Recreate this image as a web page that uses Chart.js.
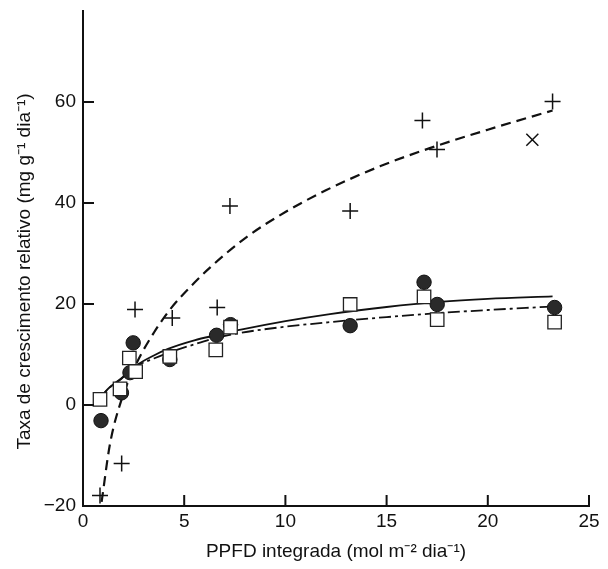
<!DOCTYPE html>
<html>
<head>
<meta charset="utf-8">
<script src="https://cdn.jsdelivr.net/npm/chart.js@4"></script>
<style>
  html, body { margin: 0; padding: 0; background: #fff; }
  #wrap { width: 608px; height: 569px; }
</style>
</head>
<body>
<div id="wrap"><canvas id="growthChart" width="608" height="569"></canvas></div>
<script>
// values
const plusX = [0.84, 1.91, 2.57, 4.41, 6.63, 7.26, 13.2, 16.77, 17.49, 23.2];
const plusY = [-17.9, -11.6, 18.9, 17.2, 19.3, 39.4, 38.4, 56.3, 50.6, 60.1];
const timesX = [22.2];
const timesY = [52.5];
const circleX = [0.89, 1.9, 2.32, 2.48, 4.29, 6.6, 7.29, 13.2, 16.85, 17.5, 23.3];
const circleY = [-3.1, 2.4, 6.4, 12.3, 9.0, 13.8, 15.9, 15.7, 24.3, 19.9, 19.3];
const squareX = [0.84, 1.83, 2.29, 2.6, 4.29, 6.56, 7.29, 13.2, 16.85, 17.5, 23.3];
const squareY = [1.1, 3.2, 9.3, 6.6, 9.6, 10.9, 15.4, 19.9, 21.4, 16.9, 16.4];

// fitted curves
const dashFitX = [0.92, 1.33, 1.9, 2.65, 3.5, 4.3, 5.5, 6.3, 8.1, 10, 12, 14.7, 17.1, 20, 23.2];
const dashFitY = [-19.2, -7.8, 1.0, 8.3, 14.3, 18.9, 24.2, 27.3, 33.3, 38.2, 42.5, 47.3, 50.8, 54.5, 58.3];
const solidFitX = [0.84, 1.1, 1.9, 2.7, 3.5, 4.2, 5.5, 6.7, 7.8, 10, 12.2, 15, 17.6, 20, 23.2];
const solidFitY = [1, 2.6, 5.3, 8, 9.8, 11.1, 12.8, 13.9, 14.9, 16.6, 18.0, 19.4, 20.4, 21.0, 21.5];
const dotFitX = [0.84, 1.1, 1.9, 2.7, 3.5, 4.2, 5.5, 6.7, 7.8, 10, 12.2, 15, 17.6, 20, 23.2];
const dotFitY = [1, 2.6, 5.2, 7.8, 9.2, 10.3, 12, 13.4, 14.3, 15.5, 16.4, 17.4, 18.2, 18.8, 19.5];

const xTicks = [0, 5, 10, 15, 20, 25];
const yTicks = [-20, 0, 20, 40, 60];

const FONT = '"Liberation Sans", Arial, Helvetica, sans-serif';
const yTitle = 'Taxa de crescimento relativo (mg g⁻¹ dia⁻¹)';

function pts(xs, ys) {
    return xs.map((x, i) => ({ x, y: ys[i] }));
}

// ticks in the figure point into the plot, so draw them from the scales
const inwardTicks = {
    id: 'inwardTicks',
    afterDraw(chart) {
        const { ctx, chartArea, scales } = chart;
        ctx.save();
        ctx.strokeStyle = '#111';
        ctx.lineWidth = 2;
        ctx.beginPath();
        xTicks.slice(1).forEach(v => {
            const px = scales.x.getPixelForValue(v);
            ctx.moveTo(px, chartArea.bottom);
            ctx.lineTo(px, chartArea.bottom - 11);
        });
        yTicks.slice(1).forEach(v => {
            const py = scales.y.getPixelForValue(v);
            ctx.moveTo(chartArea.left, py);
            ctx.lineTo(chartArea.left + 11, py);
        });
        ctx.stroke();

        // y title sits a little below the centre of the axis in the original
        ctx.translate(25, chartArea.top + (chartArea.bottom - chartArea.top) / 2 + 13);
        ctx.rotate(-Math.PI / 2);
        ctx.fillStyle = '#111';
        ctx.font = '19px ' + FONT;
        ctx.textAlign = 'center';
        ctx.textBaseline = 'middle';
        ctx.fillText(yTitle, 0, 0);
        ctx.restore();
    }
};

const ctx = document.getElementById('growthChart').getContext('2d');
new Chart(ctx, {
    type: 'scatter',
    data: {
        datasets: [
            {
                label: 'quadrados',
                data: pts(squareX, squareY),
                pointStyle: 'rect',
                pointRadius: 9.5,
                backgroundColor: '#fff',
                borderColor: '#222',
                borderWidth: 1.3
            },
            {
                label: 'círculos',
                data: pts(circleX, circleY),
                pointStyle: 'circle',
                pointRadius: 7.2,
                backgroundColor: '#2a2a2a',
                borderColor: '#111',
                borderWidth: 1
            },
            {
                label: 'cruzes',
                data: pts(plusX, plusY),
                pointStyle: 'cross',
                pointRadius: 8,
                borderColor: '#111',
                borderWidth: 1.5
            },
            {
                label: 'x',
                data: pts(timesX, timesY),
                pointStyle: 'crossRot',
                pointRadius: 8.5,
                borderColor: '#111',
                borderWidth: 1.5
            },
            {
                label: 'ajuste tracejado',
                data: pts(dashFitX, dashFitY),
                showLine: true,
                pointRadius: 0,
                borderColor: '#111',
                borderWidth: 2.2,
                borderDash: [10, 6],
                cubicInterpolationMode: 'monotone'
            },
            {
                label: 'ajuste contínuo',
                data: pts(solidFitX, solidFitY),
                showLine: true,
                pointRadius: 0,
                borderColor: '#111',
                borderWidth: 1.8,
                cubicInterpolationMode: 'monotone'
            },
            {
                label: 'ajuste traço-ponto',
                data: pts(dotFitX, dotFitY),
                showLine: true,
                pointRadius: 0,
                borderColor: '#111',
                borderWidth: 1.8,
                borderDash: [12, 4, 3, 4],
                cubicInterpolationMode: 'monotone'
            }
        ]
    },
    options: {
        responsive: false,
        animation: false,
        layout: { padding: { top: 11, right: 19, left: 0, bottom: 0 } },
        plugins: {
            legend: { display: false },
            tooltip: { enabled: false }
        },
        scales: {
            x: {
                type: 'linear',
                min: 0,
                max: 25,
                afterFit: s => { s.height = 63; s.paddingLeft = 0; s.paddingRight = 0; },
                afterBuildTicks: s => { s.ticks = xTicks.map(v => ({ value: v })); },
                grid: { display: false, drawTicks: false },
                border: { display: true, color: '#111', width: 2 },
                ticks: { color: '#111', padding: 4, font: { family: FONT, size: 19 } },
                title: {
                    display: true,
                    text: 'PPFD integrada (mol m⁻² dia⁻¹)',
                    color: '#111',
                    font: { family: FONT, size: 19 },
                    padding: { top: 0, bottom: 6 }
                }
            },
            y: {
                type: 'linear',
                min: -20,
                max: 78,
                afterFit: s => { s.width = 83; s.paddingTop = 0; s.paddingBottom = 0; },
                afterBuildTicks: s => { s.ticks = yTicks.map(v => ({ value: v })); },
                grid: { display: false, drawTicks: false },
                border: { display: true, color: '#111', width: 2 },
                ticks: {
                    color: '#111',
                    padding: 7,
                    font: { family: FONT, size: 19 },
                    callback: v => (v < 0 ? '−' + Math.abs(v) : v)
                }
            }
        }
    },
    plugins: [inwardTicks]
});
</script>
</body>
</html>
